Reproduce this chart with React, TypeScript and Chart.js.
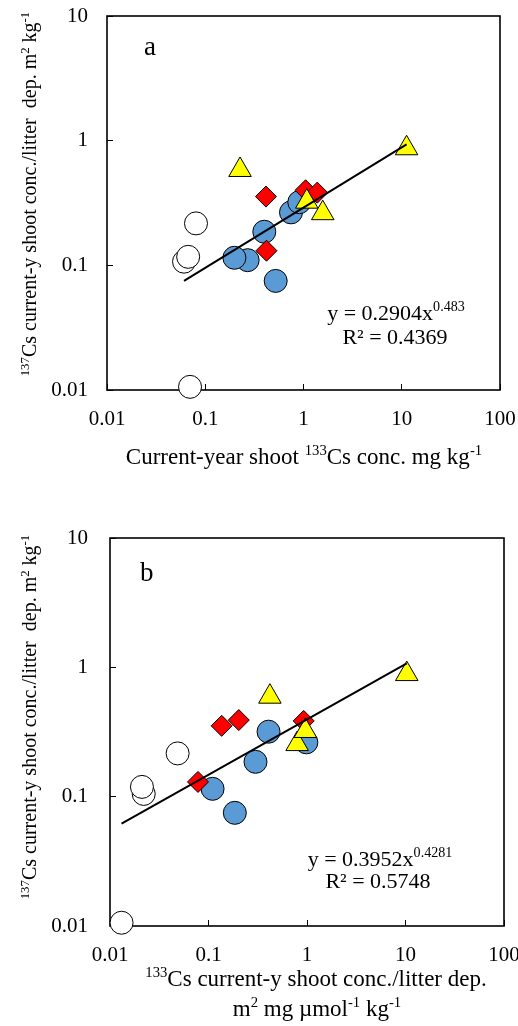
import React, { useEffect, useRef } from 'react';
import { Chart, registerables } from 'chart.js';

Chart.register(...registerables);

// ---------- Panel a data ----------
const aWhiteX = [0.0608, 0.067, 0.0805, 0.070];
const aWhiteY = [0.107, 0.117, 0.217, 0.0106];
const aBlueX = [0.270, 0.198, 0.521, 0.399, 0.746, 0.906];
const aBlueY = [0.110, 0.115, 0.075, 0.186, 0.266, 0.321];
const aRedX = [0.415, 0.42, 1.05, 1.38];
const aRedY = [0.356, 0.131, 0.40, 0.383];
const aYellowX = [0.226, 11.2, 1.08, 1.57];
const aYellowY = [0.582, 0.869, 0.324, 0.262];
const aFitCoef = 0.2904;
const aFitExp = 0.483;
const aXTicks = [0.01, 0.1, 1, 10, 100];
const aXTickLabels = ['0.01', '0.1', '1', '10', '100'];

// ---------- Panel b data ----------
const bWhiteX = [0.0131, 0.0220, 0.0211, 0.0486];
const bWhiteY = [0.0106, 0.105, 0.119, 0.216];
const bBlueX = [0.110, 0.185, 0.300, 0.407, 0.985];
const bBlueY = [0.115, 0.075, 0.186, 0.318, 0.263];
const bRedX = [0.0782, 0.136, 0.203, 0.926];
const bRedY = [0.130, 0.353, 0.391, 0.385];
const bYellowX = [0.42, 10.3, 0.794, 0.963];
const bYellowY = [0.593, 0.887, 0.255, 0.322];
const bFitCoef = 0.3952;
const bFitExp = 0.4281;
const bXTicks = [0.01, 0.1, 1, 10, 100];
const bXTickLabels = ['0.01', '0.1', '1', '10', '100'];

const yTicks = [0.01, 0.1, 1, 10];
const yTickLabels = ['0.01', '0.1', '1', '10'];

const SERIF = '"Liberation Serif", "Times New Roman", serif';

const pts = (xs: number[], ys: number[]) => xs.map((x, i) => ({ x, y: ys[i] }));

function fitLine(coef: number, exp: number, allX: number[]) {
  const lo = Math.min(...allX);
  const hi = Math.max(...allX);
  return [lo, hi].map((x) => ({ x, y: coef * Math.pow(x, exp) }));
}

const boxPlugin = {
  id: 'plotBox',
  beforeDatasetsDraw(chart: any) {
    const { ctx, chartArea: a } = chart;
    ctx.save();
    ctx.strokeStyle = '#000';
    ctx.lineWidth = 1.6;
    ctx.strokeRect(a.left, a.top, a.right - a.left, a.bottom - a.top);
    ctx.restore();
  },
};

interface PanelSpec {
  whiteX: number[]; whiteY: number[];
  blueX: number[]; blueY: number[];
  redX: number[]; redY: number[];
  yellowX: number[]; yellowY: number[];
  coef: number; exp: number;
  xTicks: number[]; xTickLabels: string[];
  xMax: number;
  width: number; height: number;
  padTop: number; padRight: number;
  yAxisWidth: number; xAxisHeight: number;
  yLabelPad: number; xLabelPad: number;
}

function makeChart(canvas: HTMLCanvasElement, p: PanelSpec) {
  const allX = [...p.whiteX, ...p.blueX, ...p.redX, ...p.yellowX];
  const tickFont = { family: SERIF, size: 21 };
  const common = { borderColor: '#000', borderWidth: 1, clip: false as any };
  return new Chart(canvas, {
    type: 'scatter',
    data: {
      datasets: [
        {
          data: fitLine(p.coef, p.exp, allX),
          showLine: true,
          borderColor: '#000',
          borderWidth: 2,
          pointRadius: 0,
          fill: false,
        } as any,
        { ...common, data: pts(p.yellowX, p.yellowY), backgroundColor: '#FFFF00', pointStyle: 'triangle', pointRadius: 13 },
        { ...common, data: pts(p.redX, p.redY), backgroundColor: '#FF0000', pointStyle: 'rectRot', pointRadius: 10.5 },
        { ...common, data: pts(p.blueX, p.blueY), backgroundColor: '#5B9BD5', pointStyle: 'circle', pointRadius: 11.5 },
        { ...common, data: pts(p.whiteX, p.whiteY), backgroundColor: '#FFFFFF', pointStyle: 'circle', pointRadius: 11.5 },
      ],
    },
    options: {
      responsive: false,
      animation: false,
      devicePixelRatio: 1,
      layout: { padding: { top: p.padTop, right: p.padRight, left: 0, bottom: 0 } },
      plugins: { legend: { display: false }, tooltip: { enabled: false } },
      scales: {
        x: {
          type: 'logarithmic',
          position: 'bottom',
          min: 0.01,
          max: p.xMax,
          afterBuildTicks: (s: any) => { s.ticks = p.xTicks.map((v) => ({ value: v })); },
          afterFit: (s: any) => { s.height = p.xAxisHeight; s.paddingLeft = 0; s.paddingRight = 0; },
          ticks: {
            autoSkip: false, maxRotation: 0, minRotation: 0,
            padding: p.xLabelPad, color: '#000', font: tickFont,
            callback: (_v: any, i: number) => p.xTickLabels[i],
          },
          grid: { drawOnChartArea: false, drawTicks: true, tickLength: -6, color: '#000', lineWidth: 1 },
          border: { display: false },
        },
        y: {
          type: 'logarithmic',
          position: 'left',
          min: 0.01,
          max: 10,
          afterBuildTicks: (s: any) => { s.ticks = yTicks.map((v) => ({ value: v })); },
          afterFit: (s: any) => { s.width = p.yAxisWidth; s.paddingTop = 0; s.paddingBottom = 0; },
          ticks: {
            autoSkip: false,
            padding: p.yLabelPad, color: '#000', font: tickFont,
            callback: (_v: any, i: number) => yTickLabels[i],
          },
          grid: { drawOnChartArea: false, drawTicks: true, tickLength: -6, color: '#000', lineWidth: 1 },
          border: { display: false },
        },
      },
    },
    plugins: [boxPlugin],
  } as any);
}

const Sup = ({ children }: { children: React.ReactNode }) => (
  <span style={{ fontSize: '0.64em', position: 'relative', top: '-0.58em' }}>{children}</span>
);

function Label({ x, baseline, size, children, align = 'center' }: { x: number; baseline: number; size: number; children: React.ReactNode; align?: 'center' | 'left' }) {
  return (
    <div
      style={{
        position: 'absolute',
        left: x,
        top: baseline - 0.8375 * size,
        fontSize: size,
        lineHeight: `${size}px`,
        whiteSpace: 'pre',
        transform: align === 'center' ? 'translateX(-50%)' : undefined,
        fontFamily: SERIF,
        color: '#000',
      }}
    >
      {children}
    </div>
  );
}

function YTitle({ cx, cy, size }: { cx: number; cy: number; size: number }) {
  return (
    <div
      style={{
        position: 'absolute',
        left: cx,
        top: cy,
        fontSize: size,
        lineHeight: `${size}px`,
        whiteSpace: 'pre',
        transform: 'translate(-50%, -50%) rotate(-90deg)',
        fontFamily: SERIF,
        color: '#000',
      }}
    >
      <Sup>137</Sup>Cs current-y shoot conc./litter  dep. m<Sup>2</Sup> kg<Sup>-1</Sup>
    </div>
  );
}

export default function App() {
  const refA = useRef<HTMLCanvasElement>(null);
  const refB = useRef<HTMLCanvasElement>(null);

  useEffect(() => {
    const ca = makeChart(refA.current!, {
      whiteX: aWhiteX, whiteY: aWhiteY, blueX: aBlueX, blueY: aBlueY,
      redX: aRedX, redY: aRedY, yellowX: aYellowX, yellowY: aYellowY,
      coef: aFitCoef, exp: aFitExp, xTicks: aXTicks, xTickLabels: aXTickLabels, xMax: 100,
      width: 518, height: 475, padTop: 16, padRight: 18, yAxisWidth: 107, xAxisHeight: 85,
      yLabelPad: 25, xLabelPad: 23,
    });
    const cb = makeChart(refB.current!, {
      whiteX: bWhiteX, whiteY: bWhiteY, blueX: bBlueX, blueY: bBlueY,
      redX: bRedX, redY: bRedY, yellowX: bYellowX, yellowY: bYellowY,
      coef: bFitCoef, exp: bFitExp, xTicks: bXTicks, xTickLabels: bXTickLabels, xMax: 100,
      width: 518, height: 536, padTop: 48, padRight: 8, yAxisWidth: 110, xAxisHeight: 100,
      yLabelPad: 28, xLabelPad: 23,
    });
    return () => { ca.destroy(); cb.destroy(); };
  }, []);

  return (
    <div style={{ position: 'absolute', left: 0, top: 0, width: 518, height: 1026, background: '#fff', overflow: 'hidden' }}>
      <canvas ref={refA} width={518} height={475} style={{ position: 'absolute', left: 0, top: 0, width: 518, height: 475, display: 'block' }} />
      <canvas ref={refB} width={518} height={536} style={{ position: 'absolute', left: 0, top: 490, width: 518, height: 536, display: 'block' }} />

      {/* Panel a texts */}
      <Label x={144} baseline={56} size={27} align="left">a</Label>
      <Label x={396} baseline={320} size={22}>y = 0.2904x<Sup>0.483</Sup></Label>
      <Label x={395} baseline={344} size={22}>R² = 0.4369</Label>
      <YTitle cx={30} cy={194} size={20} />
      <Label x={304} baseline={464} size={23}>Current-year shoot <Sup>133</Sup>Cs conc. mg kg<Sup>-1</Sup></Label>

      {/* Panel b texts */}
      <Label x={140} baseline={582} size={27} align="left">b</Label>
      <Label x={380} baseline={866} size={22}>y = 0.3952x<Sup>0.4281</Sup></Label>
      <Label x={378} baseline={888} size={22}>R² = 0.5748</Label>
      <YTitle cx={30} cy={717} size={20} />
      <Label x={316} baseline={986} size={23}><Sup>133</Sup>Cs current-y shoot conc./litter dep.</Label>
      <Label x={317} baseline={1016} size={23}>m<Sup>2</Sup> mg µmol<Sup>-1</Sup> kg<Sup>-1</Sup></Label>
    </div>
  );
}
